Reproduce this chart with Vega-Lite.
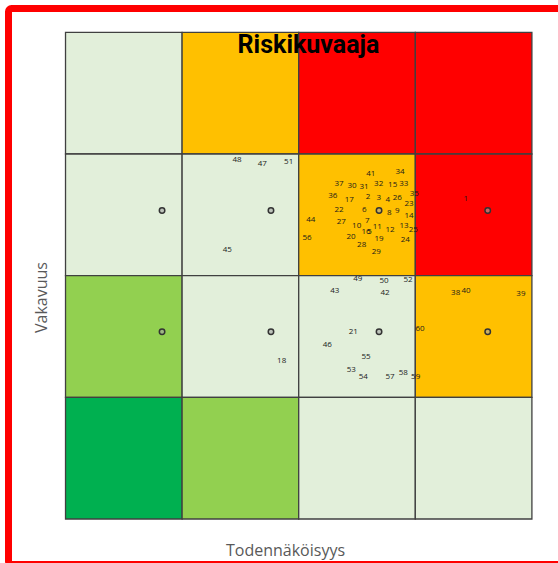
{
  "$schema": "https://vega.github.io/schema/vega-lite/v6.json",
  "autosize": "none",
  "padding": {"left": 8.5, "top": 8.5, "right": 0, "bottom": 0},
  "width": 562,
  "height": 556,
  "background": "white",
  "config": {
    "view": {"stroke": "#FF0000", "strokeWidth": 7, "cornerRadius": 3}
  },
  "title": {
    "text": "Riskikuvaaja",
    "font": "Roboto",
    "fontSize": 25,
    "fontWeight": "bold",
    "color": "#000000",
    "anchor": "middle",
    "frame": "group",
    "baseline": "alphabetic",
    "offset": 0,
    "dx": 19,
    "dy": 69
  },
  "datasets": {
    "cells": [
      {"x0": 0, "x1": 1, "y0": 3, "y1": 4, "taso": 3},
      {"x0": 1, "x1": 2, "y0": 3, "y1": 4, "taso": 4},
      {"x0": 2, "x1": 3, "y0": 3, "y1": 4, "taso": 5},
      {"x0": 3, "x1": 4, "y0": 3, "y1": 4, "taso": 5},
      {"x0": 0, "x1": 1, "y0": 2, "y1": 3, "taso": 3},
      {"x0": 1, "x1": 2, "y0": 2, "y1": 3, "taso": 3},
      {"x0": 2, "x1": 3, "y0": 2, "y1": 3, "taso": 4},
      {"x0": 3, "x1": 4, "y0": 2, "y1": 3, "taso": 5},
      {"x0": 0, "x1": 1, "y0": 1, "y1": 2, "taso": 2},
      {"x0": 1, "x1": 2, "y0": 1, "y1": 2, "taso": 3},
      {"x0": 2, "x1": 3, "y0": 1, "y1": 2, "taso": 3},
      {"x0": 3, "x1": 4, "y0": 1, "y1": 2, "taso": 4},
      {"x0": 0, "x1": 1, "y0": 0, "y1": 1, "taso": 1},
      {"x0": 1, "x1": 2, "y0": 0, "y1": 1, "taso": 2},
      {"x0": 2, "x1": 3, "y0": 0, "y1": 1, "taso": 3},
      {"x0": 3, "x1": 4, "y0": 0, "y1": 1, "taso": 3}
    ],
    "labels": [
      {"id": "1", "x": 3.432, "y": 2.634},
      {"id": "2", "x": 2.594, "y": 2.644},
      {"id": "3", "x": 2.686, "y": 2.636},
      {"id": "4", "x": 2.763, "y": 2.620},
      {"id": "5", "x": 2.607, "y": 2.356},
      {"id": "6", "x": 2.563, "y": 2.543},
      {"id": "7", "x": 2.588, "y": 2.450},
      {"id": "8", "x": 2.777, "y": 2.516},
      {"id": "9", "x": 2.846, "y": 2.529},
      {"id": "10", "x": 2.497, "y": 2.412},
      {"id": "11", "x": 2.674, "y": 2.403},
      {"id": "12", "x": 2.783, "y": 2.379},
      {"id": "13", "x": 2.903, "y": 2.406},
      {"id": "14", "x": 2.946, "y": 2.488},
      {"id": "15", "x": 2.806, "y": 2.746},
      {"id": "16", "x": 2.577, "y": 2.356},
      {"id": "17", "x": 2.434, "y": 2.626},
      {"id": "18", "x": 1.854, "y": 1.300},
      {"id": "19", "x": 2.689, "y": 2.305},
      {"id": "20", "x": 2.449, "y": 2.321},
      {"id": "21", "x": 2.468, "y": 1.533},
      {"id": "22", "x": 2.346, "y": 2.543},
      {"id": "23", "x": 2.946, "y": 2.590},
      {"id": "24", "x": 2.914, "y": 2.291},
      {"id": "25", "x": 2.983, "y": 2.379},
      {"id": "26", "x": 2.846, "y": 2.636},
      {"id": "27", "x": 2.365, "y": 2.439},
      {"id": "28", "x": 2.540, "y": 2.255},
      {"id": "29", "x": 2.666, "y": 2.198},
      {"id": "30", "x": 2.457, "y": 2.741},
      {"id": "31", "x": 2.560, "y": 2.730},
      {"id": "32", "x": 2.686, "y": 2.751},
      {"id": "33", "x": 2.901, "y": 2.751},
      {"id": "34", "x": 2.869, "y": 2.854},
      {"id": "35", "x": 2.991, "y": 2.672},
      {"id": "36", "x": 2.292, "y": 2.653},
      {"id": "37", "x": 2.346, "y": 2.751},
      {"id": "38", "x": 3.346, "y": 1.858},
      {"id": "39", "x": 3.906, "y": 1.849},
      {"id": "40", "x": 3.435, "y": 1.874},
      {"id": "41", "x": 2.618, "y": 2.837},
      {"id": "42", "x": 2.740, "y": 1.854},
      {"id": "43", "x": 2.309, "y": 1.871},
      {"id": "44", "x": 2.103, "y": 2.461},
      {"id": "45", "x": 1.388, "y": 2.214},
      {"id": "46", "x": 2.245, "y": 1.430},
      {"id": "47", "x": 1.688, "y": 2.919},
      {"id": "48", "x": 1.471, "y": 2.952},
      {"id": "49", "x": 2.506, "y": 1.970},
      {"id": "50", "x": 2.732, "y": 1.953},
      {"id": "51", "x": 1.914, "y": 2.933},
      {"id": "52", "x": 2.937, "y": 1.961},
      {"id": "53", "x": 2.451, "y": 1.226},
      {"id": "54", "x": 2.554, "y": 1.171},
      {"id": "55", "x": 2.577, "y": 1.331},
      {"id": "56", "x": 2.071, "y": 2.313},
      {"id": "57", "x": 2.783, "y": 1.171},
      {"id": "58", "x": 2.897, "y": 1.199},
      {"id": "59", "x": 3.003, "y": 1.171},
      {"id": "60", "x": 3.040, "y": 1.564}
    ],
    "points": [
      {"x": 0.828, "y": 2.535},
      {"x": 1.762, "y": 2.535},
      {"x": 2.689, "y": 2.535},
      {"x": 3.621, "y": 2.535},
      {"x": 0.828, "y": 1.539},
      {"x": 1.762, "y": 1.539},
      {"x": 2.689, "y": 1.539},
      {"x": 3.621, "y": 1.539}
    ]
  },
  "layer": [
    {
      "data": {"name": "cells"},
      "mark": {"type": "rect", "stroke": "#404040", "strokeWidth": 1.3},
      "encoding": {
        "x": {"field": "x0", "type": "quantitative",
          "scale": {"domain": [-0.489, 4.331], "nice": false, "zero": false},
          "axis": {"title": "Todennäköisyys", "domain": false, "ticks": false, "labels": false, "grid": false,
            "titleFont": "Open Sans", "titleFontSize": 16, "titleFontWeight": "normal", "titleColor": "#595959",
            "titleX": 276.5, "titleY": -14, "titleBaseline": "middle", "titleAlign": "center"}},
        "x2": {"field": "x1"},
        "y": {"field": "y0", "type": "quantitative",
          "scale": {"domain": [-0.374, 4.196], "nice": false, "zero": false},
          "axis": {"title": "Vakavuus", "domain": false, "ticks": false, "labels": false, "grid": false,
            "titleFont": "Open Sans", "titleFontSize": 16, "titleFontWeight": "normal", "titleColor": "#595959",
            "titleX": 33, "titleY": 288.5, "titleBaseline": "middle", "titleAlign": "center", "titleAngle": -90}},
        "y2": {"field": "y1"},
        "color": {"field": "taso", "type": "ordinal",
          "scale": {"domain": [1, 2, 3, 4, 5], "range": ["#00B050", "#92D050", "#E2EFDA", "#FFC000", "#FF0000"]},
          "legend": null}
      }
    },
    {
      "data": {"name": "labels"},
      "mark": {"type": "text", "font": "Open Sans", "fontSize": 8, "color": "#1a1a1a", "align": "center", "baseline": "middle"},
      "encoding": {
        "x": {"field": "x", "type": "quantitative", "scale": {"domain": [-0.489, 4.331], "nice": false, "zero": false}},
        "y": {"field": "y", "type": "quantitative", "scale": {"domain": [-0.374, 4.196], "nice": false, "zero": false}},
        "text": {"field": "id", "type": "nominal"}
      }
    },
    {
      "data": {"name": "points"},
      "mark": {"type": "point", "shape": "circle", "filled": false, "fill": "#a6a6a6", "fillOpacity": 0.6, "stroke": "#333333", "strokeWidth": 1.5, "size": 30, "opacity": 1},
      "encoding": {
        "x": {"field": "x", "type": "quantitative", "scale": {"domain": [-0.489, 4.331], "nice": false, "zero": false}},
        "y": {"field": "y", "type": "quantitative", "scale": {"domain": [-0.374, 4.196], "nice": false, "zero": false}}
      }
    }
  ]
}
